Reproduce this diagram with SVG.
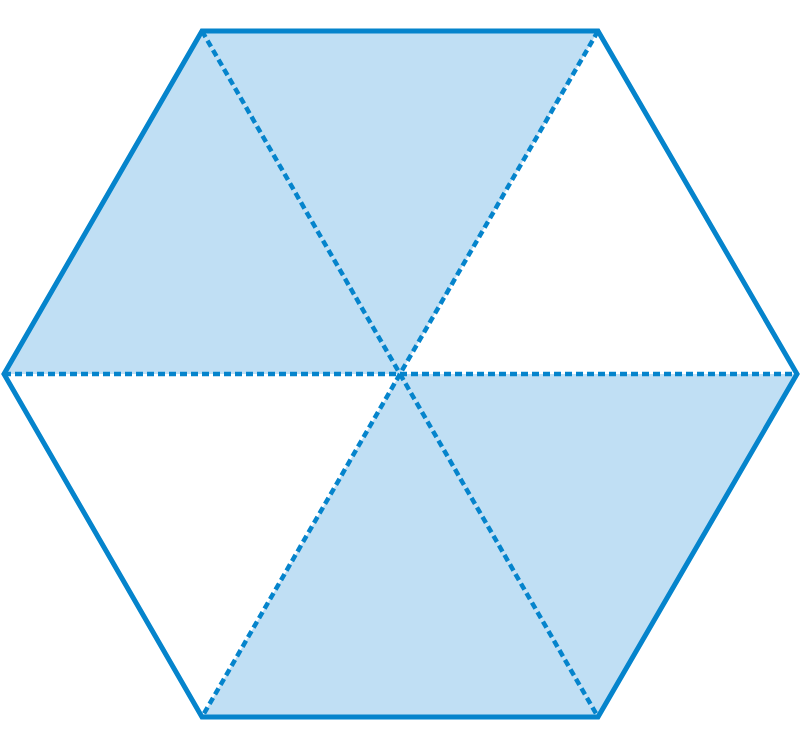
<svg xmlns="http://www.w3.org/2000/svg" width="800" height="750" viewBox="0 0 800 750">
<style>
.fill{fill:#c0dff4;stroke:none}
.dash{stroke:#0584cc;stroke-width:4.5;stroke-dasharray:7 4;fill:none}
.edge{fill:none;stroke:#0584cc;stroke-width:5;stroke-linejoin:miter}
</style>
<rect width="800" height="750" fill="#ffffff"/>
<g id="shading">
<polygon class="fill" points="4,374 202,31 400,374"/>
<polygon class="fill" points="202,31 598,31 400,374"/>
<polygon class="fill" points="400,374 797,374 598,717"/>
<polygon class="fill" points="400,374 598,717 202,717"/>
</g>
<g id="connectors">
<line class="dash" x1="4" y1="374" x2="797" y2="374"/>
<line class="dash" x1="202" y1="31" x2="598" y2="717"/>
<line class="dash" x1="598" y1="31" x2="202" y2="717"/>
</g>
<g id="hexagon">
<polygon class="edge" points="202,31 598,31 797,374 598,717 202,717 4,374"/>
</g>
</svg>
